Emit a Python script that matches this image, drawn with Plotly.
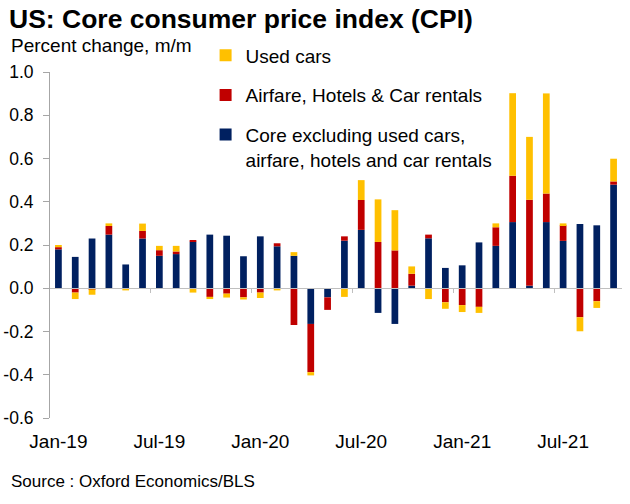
import plotly.graph_objects as go

months = ["Jan-19", "Feb-19", "Mar-19", "Apr-19", "May-19", "Jun-19", "Jul-19", "Aug-19",
          "Sep-19", "Oct-19", "Nov-19", "Dec-19", "Jan-20", "Feb-20", "Mar-20", "Apr-20",
          "May-20", "Jun-20", "Jul-20", "Aug-20", "Sep-20", "Oct-20", "Nov-20", "Dec-20",
          "Jan-21", "Feb-21", "Mar-21", "Apr-21", "May-21", "Jun-21", "Jul-21", "Aug-21",
          "Sep-21", "Oct-21"]

core = [0.18, 0.145, 0.23, 0.248, 0.11, 0.23, 0.15, 0.158, 0.215, 0.248,
        0.243, 0.148, 0.24, 0.194, 0.15, -0.165, -0.042, 0.22, 0.27, -0.114,
        -0.165, 0.012, 0.231, 0.094, 0.106, 0.212, 0.196, 0.306, 0.012, 0.306,
        0.219, 0.297, 0.291, 0.479]

airfare = [0.01, -0.02, -0.005, 0.04, 0.0, 0.035, 0.026, 0.012, 0.005, -0.04,
           -0.025, -0.042, -0.02, 0.014, -0.17, -0.223, -0.058, 0.02, 0.138, 0.214,
           0.175, 0.055, 0.017, -0.065, -0.078, -0.086, 0.086, 0.214, 0.397, 0.132,
           0.072, -0.134, -0.06, 0.015]

used_cars = [0.01, -0.03, -0.025, 0.012, -0.01, 0.034, 0.02, 0.026, -0.02, -0.01,
             -0.018, -0.01, -0.025, -0.01, 0.017, -0.015, 0.0, -0.04, 0.092, 0.197,
             0.186, 0.034, -0.05, -0.03, -0.032, -0.028, 0.018, 0.382, 0.291, 0.463,
             0.009, -0.065, -0.031, 0.105]

x_tick_labels = ["Jan-19", "Jul-19", "Jan-20", "Jul-20", "Jan-21", "Jul-21"]
y_tick_vals = [-0.6, -0.4, -0.2, 0.0, 0.2, 0.4, 0.6, 0.8, 1.0]
y_tick_text = ["-0.6", "-0.4", "-0.2", "0.0", "0.2", "0.4", "0.6", "0.8", "1.0"]

names = ["Core excluding used cars,<br>airfare, hotels and car rentals",
         "Airfare, Hotels & Car rentals", "Used cars"]
colors = ["#002060", "#C00000", "#FFC000"]
ranks = [3, 2, 1]
FONT = "Liberation Sans, Arial, sans-serif"

fig = go.Figure()
for i, (vals, name, col) in enumerate(zip([core, airfare, used_cars], names, colors)):
    fig.add_trace(go.Bar(x=months, y=vals, name=name, marker_color=col,
                         marker_line_width=0, legendgroup=f"g{i}",
                         legendrank=ranks[i]))

# zero line with boundary ticks (secondary x axis)
boundary_ticks = [i - 0.5 for i in range(1, len(months)) if i % 6 == 0]
fig.add_trace(go.Scatter(x=[], y=[], xaxis="x2", showlegend=False, hoverinfo="skip"))

plot_l, plot_r, plot_t, plot_b = 50, 622, 72, 418

def px_to_paper(px, py):
    return (px - plot_l) / (plot_r - plot_l), (plot_b - py) / (plot_b - plot_t)

sub_x, sub_y = px_to_paper(9, 46)
src_x, src_y = px_to_paper(9, 482)

fig.update_layout(
    width=630, height=504,
    margin=dict(l=plot_l, r=630 - plot_r, t=plot_t, b=504 - plot_b),
    paper_bgcolor="white", plot_bgcolor="white",
    barmode="relative", bargap=0.6,
    font=dict(family=FONT, color="#000000"),
    title=dict(text="<b>US: Core consumer price index (CPI)</b>",
               font=dict(size=26.5, family=FONT, color="#000000"),
               x=9 / 630, xanchor="left", xref="container",
               y=1 - 19 / 504, yanchor="middle", yref="container",
               automargin=False),
    xaxis=dict(type="category", range=[-0.5, len(months) - 0.5],
               tickmode="array", tickvals=x_tick_labels, ticktext=x_tick_labels,
               showline=False, ticks="", showgrid=False, zeroline=False,
               tickfont=dict(size=19), ticklabelstandoff=10, automargin=False),
    xaxis2=dict(type="linear", overlaying="x", anchor="free",
                position=0.6 / 1.6, range=[-0.5, len(months) - 0.5],
                showline=True, linecolor="#BFBFBF", linewidth=1,
                ticks="outside", ticklen=4, tickcolor="#BFBFBF",
                tickvals=boundary_ticks, showticklabels=False,
                showgrid=False, zeroline=False, automargin=False),
    yaxis=dict(range=[-0.6, 1.0], tickmode="array", tickvals=y_tick_vals,
               ticktext=y_tick_text, showline=True, linecolor="#A6A6A6",
               linewidth=1, ticks="outside", ticklen=6, tickcolor="#A6A6A6",
               showgrid=False, zeroline=False, tickfont=dict(size=17.5),
               ticklabelstandoff=6, automargin=False),
    legend=dict(x=0.272, y=1.103, xanchor="left", yanchor="top",
                traceorder="grouped", tracegroupgap=12,
                font=dict(size=19, family=FONT, color="#000000"),
                bgcolor="rgba(0,0,0,0)", valign="top"),
    annotations=[
        dict(text="Percent change, m/m", x=sub_x, y=sub_y,
             xref="paper", yref="paper", xanchor="left", yanchor="middle",
             showarrow=False, font=dict(size=19)),
        dict(text="Source : Oxford Economics/BLS", x=src_x, y=src_y,
             xref="paper", yref="paper", xanchor="left", yanchor="middle",
             showarrow=False, font=dict(size=17)),
    ],
)

fig.write_html("out.html")
